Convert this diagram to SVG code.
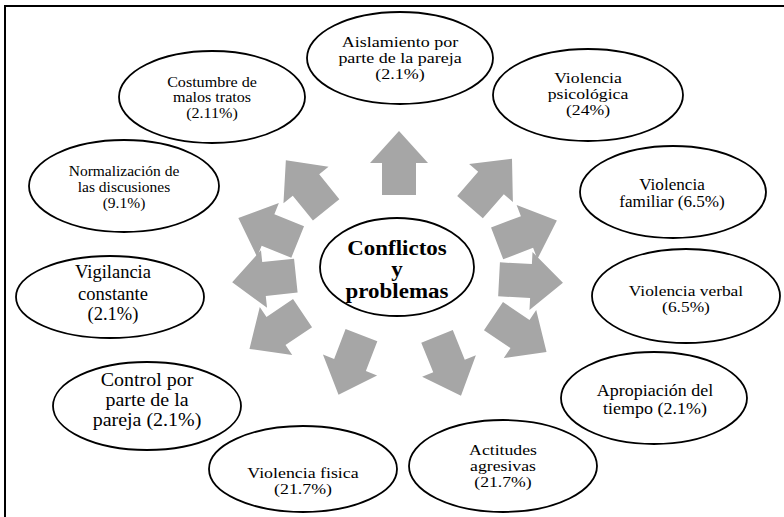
<svg xmlns="http://www.w3.org/2000/svg" xmlns:xlink="http://www.w3.org/1999/xlink" width="784" height="517" viewBox="0 0 784 517">
<style>
.node ellipse{fill:#fff;stroke:#000;stroke-width:1.8}
text{font-family:"Liberation Serif","Times New Roman",serif;fill:#000;text-anchor:middle}
.b{font-weight:bold}
.arrow{fill:#A6A6A6}
.frame{fill:none;stroke:#000;stroke-width:2}
</style>
<defs>
<path id="arr" class="arrow" d="M-32,-17 L0,-17 L0,-29 L32,0 L0,29 L0,17 L-32,17 Z"/>
</defs>
<rect width="784" height="517" fill="#fff"/>
<path class="frame" d="M5,517 V6 H784"/>

<g id="connectors">
<use xlink:href="#arr" transform="translate(399,163) rotate(-90)"/>
<use xlink:href="#arr" transform="translate(491,183) rotate(-49)"/>
<use xlink:href="#arr" transform="translate(527,232) rotate(-21)"/>
<use xlink:href="#arr" transform="translate(531,281) rotate(3)"/>
<use xlink:href="#arr" transform="translate(520,334) rotate(34)"/>
<use xlink:href="#arr" transform="translate(449,366) rotate(68)"/>
<use xlink:href="#arr" transform="translate(350,365) rotate(111)"/>
<use xlink:href="#arr" transform="translate(276,331) rotate(146)"/>
<use xlink:href="#arr" transform="translate(264,279) rotate(174)"/>
<use xlink:href="#arr" transform="translate(268,230) rotate(-158)"/>
<use xlink:href="#arr" transform="translate(306,185) rotate(-129)"/>
</g>

<g id="center" class="node">
<ellipse cx="397" cy="267" rx="77" ry="49"/>
<g transform="translate(397,0) scale(1.12,1)" font-size="20.5" class="b">
<text class="b" x="0" y="255">Conflictos</text>
<text class="b" x="0" y="276.5">y</text>
<text class="b" x="0" y="298">problemas</text>
</g>
</g>

<g id="aislamiento" class="node">
<ellipse cx="400" cy="58" rx="93" ry="46"/>
<g transform="translate(400,0) scale(1.2,1)" font-size="15">
<text x="0" y="47">Aislamiento por</text>
<text x="0" y="63">parte de la pareja</text>
<text x="0" y="79">(2.1%)</text>
</g>
</g>

<g id="psicologica" class="node">
<ellipse cx="588" cy="95" rx="95" ry="46"/>
<g transform="translate(588,0) scale(1.18,1)" font-size="15">
<text x="0" y="83">Violencia</text>
<text x="0" y="99">psicológica</text>
<text x="0" y="115">(24%)</text>
</g>
</g>

<g id="familiar" class="node">
<ellipse cx="673" cy="192" rx="93" ry="46"/>
<g transform="translate(672,0) scale(1.07,1)" font-size="16">
<text x="0" y="190">Violencia</text>
<text x="0" y="207">familiar (6.5%)</text>
</g>
</g>

<g id="verbal" class="node">
<ellipse cx="686" cy="296" rx="94" ry="47"/>
<g transform="translate(686,0) scale(1.16,1)" font-size="15">
<text x="0" y="296">Violencia verbal</text>
<text x="0" y="312">(6.5%)</text>
</g>
</g>

<g id="apropiacion" class="node">
<ellipse cx="654" cy="398" rx="93" ry="46"/>
<g transform="translate(655,0) scale(1.09,1)" font-size="16.5">
<text x="0" y="396">Apropiación del</text>
<text x="0" y="414">tiempo (2.1%)</text>
</g>
</g>

<g id="actitudes" class="node">
<ellipse cx="503" cy="466" rx="94" ry="46"/>
<g transform="translate(503,0) scale(1.18,1)" font-size="15">
<text x="0" y="455">Actitudes</text>
<text x="0" y="471">agresivas</text>
<text x="0" y="487">(21.7%)</text>
</g>
</g>

<g id="fisica" class="node">
<ellipse cx="303" cy="469" rx="94" ry="43"/>
<g transform="translate(303,0) scale(1.19,1)" font-size="15">
<text x="0" y="478">Violencia fisica</text>
<text x="0" y="494">(21.7%)</text>
</g>
</g>

<g id="control" class="node">
<ellipse cx="147" cy="406" rx="94" ry="44"/>
<g transform="translate(147,0) scale(1.08,1)" font-size="18.5">
<text x="0" y="386">Control por</text>
<text x="0" y="406">parte de la</text>
<text x="0" y="426">pareja (2.1%)</text>
</g>
</g>

<g id="vigilancia" class="node">
<ellipse cx="110" cy="297" rx="94" ry="41"/>
<g transform="translate(113,0)" font-size="18.5">
<text x="0" y="278">Vigilancia</text>
<text x="0" y="300">constante</text>
<text x="0" y="320">(2.1%)</text>
</g>
</g>

<g id="normalizacion" class="node">
<ellipse cx="124" cy="186" rx="95" ry="46"/>
<g transform="translate(124,0) scale(1.07,1)" font-size="14.5">
<text x="0" y="176">Normalización de</text>
<text x="0" y="192">las discusiones</text>
<text x="0" y="208">(9.1%)</text>
</g>
</g>

<g id="costumbre" class="node">
<ellipse cx="212" cy="97" rx="93" ry="46"/>
<g transform="translate(212,0) scale(1.11,1)" font-size="14.5">
<text x="0" y="87">Costumbre de</text>
<text x="0" y="102.5">malos tratos</text>
<text x="0" y="118">(2.11%)</text>
</g>
</g>
</svg>
